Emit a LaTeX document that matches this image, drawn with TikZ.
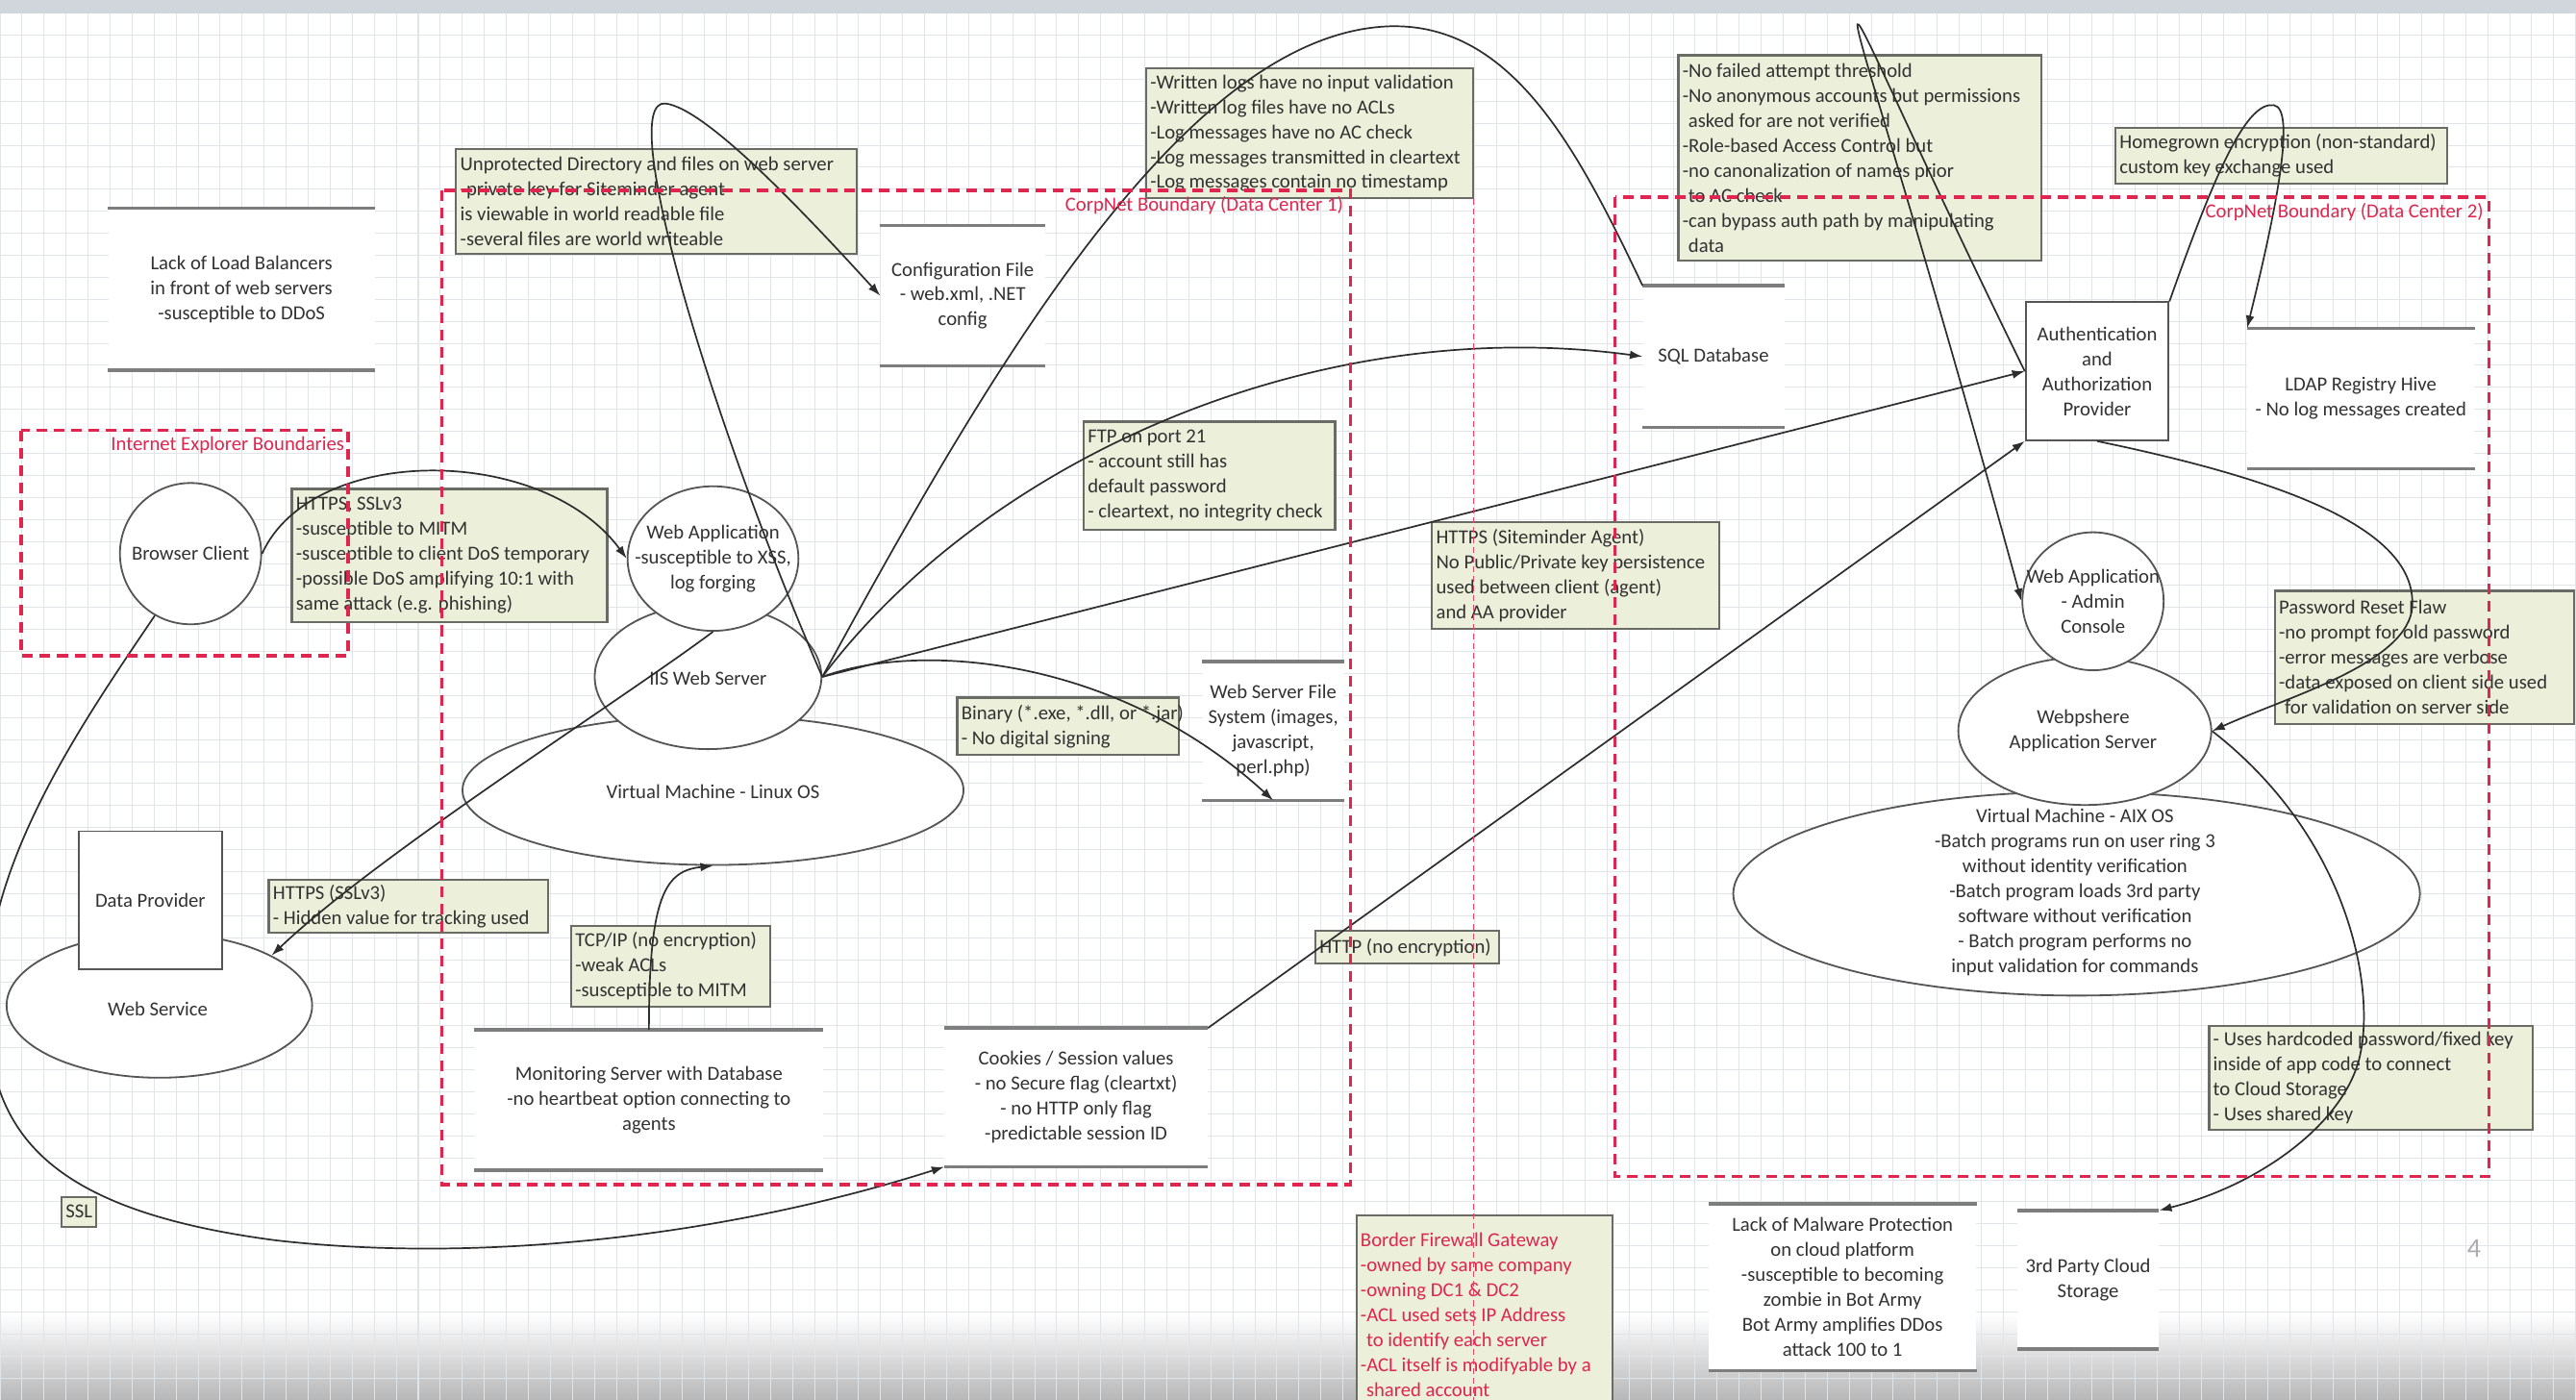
\documentclass[tikz,border=0pt]{standalone}
\usepackage{fontspec}
\setmainfont{Carlito}
\usetikzlibrary{shapes.geometric,arrows.meta}

\definecolor{redb}{RGB}{222,38,78}
\definecolor{boxfill}{RGB}{236,240,218}
\definecolor{boxline}{RGB}{105,108,100}
\definecolor{inkc}{RGB}{50,50,50}
\definecolor{linec}{RGB}{45,45,45}
\definecolor{procc}{RGB}{85,85,85}
\definecolor{gridc}{RGB}{226,229,232}
\definecolor{bandc}{RGB}{208,214,220}
\definecolor{storec}{RGB}{125,125,125}

\newcommand{\diagfont}{\fontsize{10.3pt}{12.9pt}\selectfont}

\begin{document}
\begin{tikzpicture}[x=0.85pt,y=-0.85pt,
  conn/.style={draw=linec,line width=0.85pt},
  tip/.style={-{Latex[length=6.5pt,width=4.5pt]}},
  gbox/.style={draw=boxline,fill=boxfill,line width=1.1pt,inner sep=0pt,anchor=north west},
  gtxt/.style={align=left,anchor=west,inner sep=2.5pt,font=\diagfont,text=inkc},
  proc/.style={ellipse,draw=procc,fill=white,line width=0.9pt,inner sep=0pt},
  ptxt/.style={align=center,font=\diagfont,text=inkc,inner sep=0pt},
  rbox/.style={rectangle,draw=procc,fill=white,line width=0.9pt,inner sep=0pt,align=center,font=\diagfont,text=inkc},
  store/.style={rectangle,fill=white,inner sep=0pt,align=center,font=\diagfont,text=inkc},
  storeline/.style={draw=storec,line width=1.7pt},
  bound/.style={draw=redb,line width=1.8pt,dash pattern=on 5.5pt off 3.5pt},
  thinbound/.style={draw=redb!85,line width=0.6pt,dash pattern=on 3pt off 2pt},
  blabel/.style={text=redb,font=\diagfont,inner sep=1pt}]

% canvas, grid and window bands
\clip (0,0) rectangle (1568,852);
\fill[white] (0,0) rectangle (1568,852);
\shade[top color=white,bottom color=black!28] (0,800) rectangle (1568,852);
\foreach \gx in {0,13.4,...,1570} \draw[gridc,line width=0.5pt] (\gx,8) -- (\gx,852);
\foreach \gy in {8,21.4,...,852} \draw[gridc,line width=0.5pt] (0,\gy) -- (1568,\gy);
\fill[bandc] (0,0) rectangle (1568,8);

% data stores
\node[store,minimum width=137.7pt,minimum height=83.3pt] (lb) at (147,176)
  {Lack of Load Balancers\\in front of web servers\\-susceptible to DDoS};
\node[store,minimum width=85pt,minimum height=72.25pt] (cfg) at (586,180)
  {Configuration File\\- web.xml, .NET\\config};
\node[store,minimum width=73.1pt,minimum height=73.1pt] (sql) at (1043,217) {SQL Database};
\node[store,minimum width=117.3pt,minimum height=72.25pt] (ldap) at (1437,242.5)
  {LDAP Registry Hive\\- No log messages created};
\node[store,minimum width=73.1pt,minimum height=71.4pt] (wsfs) at (775,445)
  {Web Server File\\System (images,\\javascript,\\perl.php)};
\node[store,minimum width=180.2pt,minimum height=72.25pt] (mon) at (395,669.5)
  {Monitoring Server with Database\\-no heartbeat option connecting to\\agents};
\node[store,minimum width=136pt,minimum height=71.4pt] (ck) at (655,668)
  {Cookies / Session values\\- no Secure flag (cleartxt)\\- no HTTP only flag\\-predictable session ID};
\node[store,minimum width=138.55pt,minimum height=85.85pt] (mal) at (1121.5,783.5)
  {Lack of Malware Protection\\on cloud platform\\-susceptible to becoming\\zombie in Bot Army\\Bot Army amplifies DDos\\attack 100 to 1};
\node[store,minimum width=73.1pt,minimum height=71.4pt] (cloud) at (1271,779)
  {3rd Party Cloud\\Storage};
\foreach \s in {lb,cfg,sql,ldap,wsfs,mon,ck,mal,cloud}{
  \draw[storeline] (\s.north west) -- (\s.north east);
  \draw[storeline] (\s.south west) -- (\s.south east);
}

% processes and external entities
\node[proc,minimum width=73.1pt,minimum height=73.1pt] (bc) at (116,337) {};
\node[ptxt] (bc-t) at (bc.center) {Browser Client};

\node[proc,minimum width=158.1pt,minimum height=74.8pt] (wsvc) at (97,612) {};
\node[ptxt] (wsvc-t) at (96,614) {Web Service};
\node[rbox,minimum width=73.95pt,minimum height=71.4pt] (dprov) at (91.5,548) {Data Provider};

\node[proc,minimum width=259.25pt,minimum height=77.35pt] (vml) at (434,481) {};
\node[ptxt] (vml-t) at (434,482) {Virtual Machine - Linux OS};
\node[proc,minimum width=117.3pt,minimum height=74.8pt] (iis) at (431,412) {};
\node[ptxt] (iis-t) at (431,413) {IIS Web Server};
\node[proc,minimum width=88.4pt,minimum height=74.8pt] (wapp) at (434,340) {};
\node[ptxt] (wapp-t) at (wapp.center) {Web Application\\-susceptible to XSS,\\log forging};

\node[rbox,minimum width=73.95pt,minimum height=71.4pt] (auth) at (1276.5,226)
  {Authentication\\and\\Authorization\\Provider};

\node[proc,minimum width=355.3pt,minimum height=105.4pt] (vmaix) at (1264,544) {};
\node[ptxt] (vmaix-t) at (1263,543) {Virtual Machine - AIX OS\\-Batch programs run on user ring 3\\without identity verification\\-Batch program loads 3rd party\\software without verification\\- Batch program performs no\\input validation for commands};
\node[proc,minimum width=130.9pt,minimum height=76.5pt] (wsph) at (1269,445) {};
\node[ptxt] (wsph-t) at (1268,445) {Webpshere\\Application Server};
\node[proc,minimum width=73.1pt,minimum height=71.4pt] (admin) at (1274,366) {};
\node[ptxt] (admin-t) at (admin.center) {Web Application\\- Admin\\Console};

% threat annotations
\node[gbox,minimum width=207.4pt,minimum height=54.4pt] (g1) at (277,90) {};
\node[gtxt] (g1-t) at (g1.west) {Unprotected Directory and files on web server\\-private key for Siteminder agent\\is viewable in world readable file\\-several files are world writeable};

\node[gbox,minimum width=169.15pt,minimum height=67.2pt] (g2) at (697,41) {};
\node[gtxt] (g2-t) at (g2.west) {-Written logs have no input validation\\-Written log files have no ACLs\\-Log messages have no AC check\\-Log messages transmitted in cleartext\\-Log messages contain no timestamp};

\node[gbox,minimum width=187.85pt,minimum height=106.25pt] (g3) at (1021,33) {};
\node[gtxt] (g3-t) at (g3.west) {-No failed attempt threshold\\-No anonymous accounts but permissions\\\hspace*{3pt}asked for are not verified\\-Role-based Access Control but\\-no canonalization of names prior\\\hspace*{3pt}to AC check\\-can bypass auth path by manipulating\\\hspace*{3pt}data};

\node[gbox,minimum width=171.7pt,minimum height=28.9pt] (g4) at (1287,77) {};
\node[gtxt] (g4-t) at (g4.west) {Homegrown encryption (non-standard)\\custom key exchange used};

\node[gbox,minimum width=163.2pt,minimum height=68.85pt] (g5) at (177,297) {};
\node[gtxt] (g5-t) at (g5.west) {HTTPS, SSLv3\\-susceptible to MITM\\-susceptible to client DoS temporary\\-possible DoS amplifying 10:1 with\\same attack (e.g. phishing)};

\node[gbox,minimum width=130.05pt,minimum height=56.1pt] (g6) at (659,256) {};
\node[gtxt] (g6-t) at (g6.west) {FTP on port 21\\- account still has\\default password\\- cleartext, no integrity check};

\node[gbox,minimum width=148.75pt,minimum height=55.25pt] (g7) at (871,317) {};
\node[gtxt] (g7-t) at (g7.west) {HTTPS (Siteminder Agent)\\No Public/Private key persistence\\used between client (agent)\\and AA provider};

\node[gbox,minimum width=114.75pt,minimum height=29.75pt] (g8) at (582,424) {};
\node[gtxt] (g8-t) at (g8.west) {Binary (*.exe, *.dll, or *.jar)\\- No digital signing};

\node[gbox,minimum width=144.5pt,minimum height=27.2pt] (g9) at (163,535) {};
\node[gtxt] (g9-t) at (g9.west) {HTTPS (SSLv3)\\- Hidden value for tracking used};

\node[gbox,minimum width=102.85pt,minimum height=41.65pt] (g10) at (347,563) {};
\node[gtxt] (g10-t) at (g10.west) {TCP/IP (no encryption)\\-weak ACLs\\-susceptible to MITM};

\node[gbox,minimum width=95.2pt,minimum height=17pt] (g11) at (800,566) {};
\node[gtxt] (g11-t) at (g11.west) {HTTP (no encryption)};

\node[gbox,minimum width=154.7pt,minimum height=68.85pt] (g12) at (1384,359) {};
\node[gtxt] (g12-t) at (g12.west) {Password Reset Flaw\\-no prompt for old password\\-error messages are verbose\\-data exposed on client side used\\\hspace*{3pt}for validation on server side};

\node[gbox,minimum width=167.45pt,minimum height=53.55pt] (g13) at (1344,624) {};
\node[gtxt] (g13-t) at (g13.west) {- Uses hardcoded password/fixed key\\inside of app code to connect\\to Cloud Storage\\- Uses shared key};

\node[gbox,minimum width=17.85pt,minimum height=15.3pt] (g14) at (37,728) {};
\node[gtxt,anchor=center,inner sep=0pt] (g14-t) at (g14.center) {SSL};

\node[gbox,minimum width=132.6pt,minimum height=102.85pt] (g15) at (825,739) {};
\node[gtxt,text=redb] (g15-t) at (g15.west) {Border Firewall Gateway\\-owned by same company\\-owning DC1 \& DC2\\-ACL used sets IP Address\\\hspace*{3pt}to identify each server\\-ACL itself is modifyable by a\\\hspace*{3pt}shared account};

% data flows
\coordinate (hub) at (iis.east);
\draw[conn,tip] (bc.east) .. controls (190,270) and (330,270) .. (wapp.west);
\draw[conn,tip] (bc.240) .. controls (50,440) and (-5,520) .. (-8,600)
  .. controls (-10,680) and (15,735) .. (168,755)
  .. controls (300,770) and (450,750) .. (ck.south west);
\draw[conn,tip] (wapp.south) .. controls (380,425) and (230,520) .. (wsvc.24);
\draw[conn,tip] (mon.north) .. controls (395,545) and (405,530) .. (vml.south);
\draw[conn,tip] (hub) .. controls (430,250) and (375,60) .. (405,63)
  .. controls (430,66) and (490,130) .. (cfg.west);
\draw[conn] (hub) .. controls (600,230) and (720,20) .. (846,16)
  .. controls (920,14) and (960,90) .. (sql.north west);
\draw[conn,tip] (hub) .. controls (600,280) and (800,190) .. (sql.west);
\draw[conn,tip] (hub) -- (auth.west);
\draw[conn,tip] (hub) .. controls (560,390) and (680,400) .. (wsfs.south);
\draw[conn,tip] (auth.west) .. controls (1085,-75) and (1110,-75) .. (admin.west);
\draw[conn,tip] (auth.north east) .. controls (1350,100) and (1368,62) .. (1384,64)
  .. controls (1398,66) and (1385,130) .. (ldap.north west);
\draw[conn,tip] (auth.south) .. controls (1380,290) and (1475,320) .. (1468,372)
  .. controls (1462,405) and (1390,425) .. (wsph.east);
\draw[conn,tip] (wsph.east) .. controls (1430,510) and (1445,600) .. (1437,640)
  .. controls (1430,680) and (1380,720) .. (cloud.north east);
\draw[conn,tip] (ck.north east) -- (auth.south west);

% trust boundaries
\draw[bound] (13,262) rectangle (212,399);
\draw[bound] (269,116) rectangle (822,721);
\draw[bound] (983,120) rectangle (1515,716);
\draw[thinbound] (897,121) -- (897,852);
\node[blabel,anchor=east] (ielabel) at (211,271) {Internet Explorer Boundaries};
\node[blabel,anchor=east] (dc1label) at (819,125) {CorpNet Boundary (Data Center 1)};
\node[blabel,anchor=east] (dc2label) at (1513,129) {CorpNet Boundary (Data Center 2)};

\node[text=gray!65,font=\fontsize{14pt}{16pt}\selectfont] (pgnum) at (1506,760) {4};
\end{tikzpicture}
\end{document}
